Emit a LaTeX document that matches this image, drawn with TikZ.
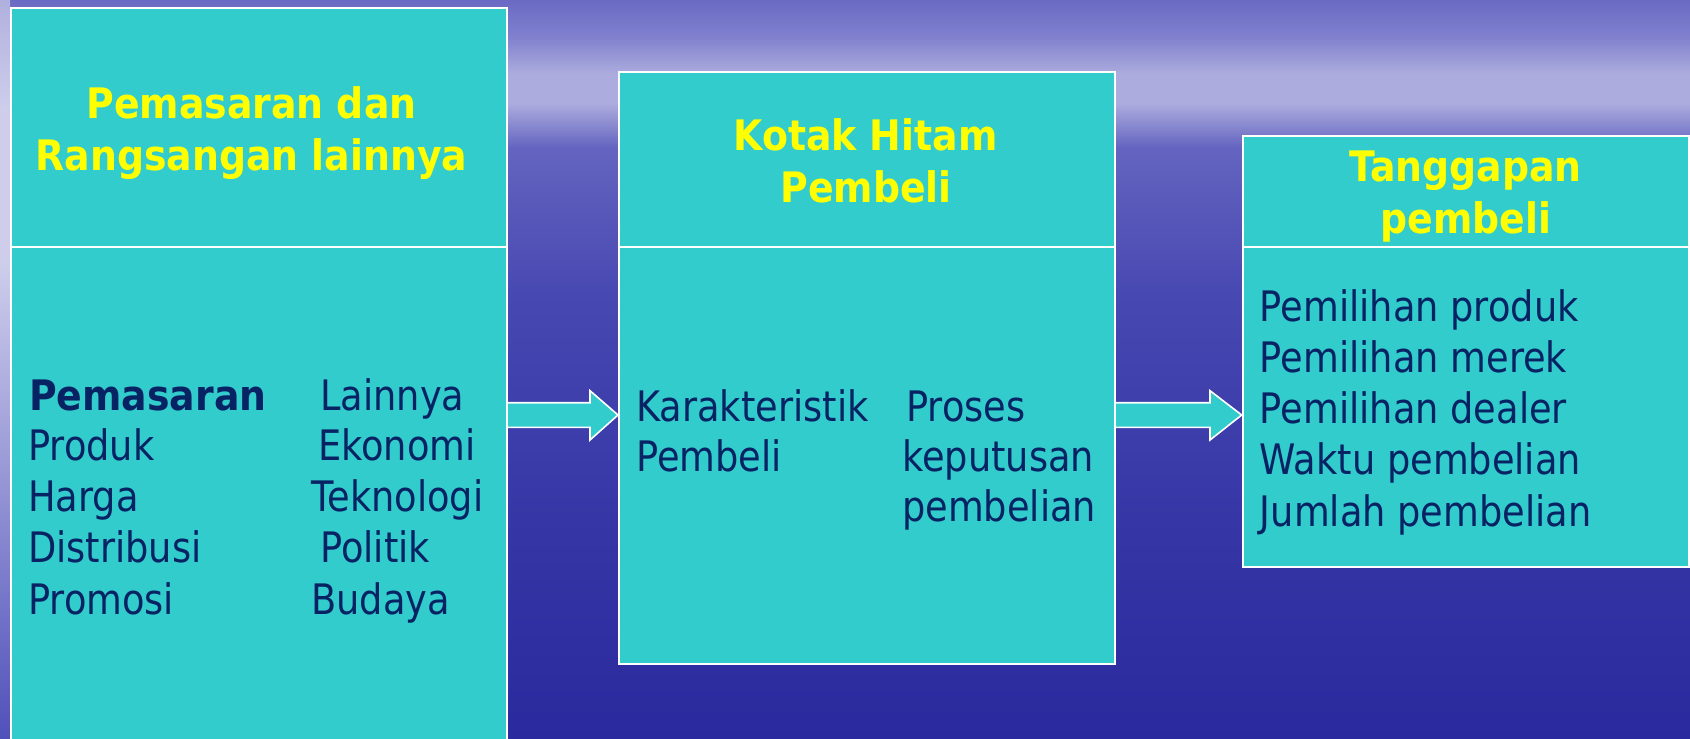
\documentclass[tikz,border=0pt]{standalone}
\usepackage{fontspec}
\newfontfamily\regf{DejaVu Sans}[FakeStretch=0.875]
\newfontfamily\boldf{DejaVu Sans}[FakeStretch=0.9]
\usetikzlibrary{calc}
\definecolor{boxfill}{RGB}{51,204,204}
\definecolor{navy}{RGB}{8,35,100}
\definecolor{ttl}{RGB}{255,255,0}
\definecolor{bgA}{RGB}{42,42,158}
\definecolor{bgB}{RGB}{54,54,166}
\definecolor{bgC}{RGB}{72,72,178}
\definecolor{bgD}{RGB}{100,100,192}
\definecolor{bgE}{RGB}{172,172,222}
\definecolor{bgF}{RGB}{128,128,206}
\definecolor{bgG}{RGB}{106,106,196}
\definecolor{lsA}{RGB}{80,80,186}
\definecolor{lsB}{RGB}{150,150,214}
\definecolor{lsC}{RGB}{206,206,236}
\definecolor{lsD}{RGB}{176,176,222}
% path box maps to 25bp..75bp of the declared shading
\pgfdeclareverticalshading{bgshade}{100bp}{color(0bp)=(bgA); color(25bp)=(bgA); color(40bp)=(bgB); color(55bp)=(bgC); color(65bp)=(bgD); color(68bp)=(bgE); color(70bp)=(bgE); color(72.5bp)=(bgF); color(75bp)=(bgG); color(100bp)=(bgG)}
\pgfdeclareverticalshading{leftstrip}{100bp}{color(0bp)=(lsA); color(25bp)=(lsA); color(42.5bp)=(lsB); color(57.5bp)=(lsC); color(67.5bp)=(lsC); color(75bp)=(lsD); color(100bp)=(lsD)}
\tikzset{
  panel/.style={draw=white, line width=2pt, fill=boxfill, inner sep=0pt, anchor=north west},
  divline/.style={draw=white, line width=2pt},
  blockarrow/.style={draw=white, line width=1.6pt, fill=boxfill, line join=miter},
  bodytext/.style={anchor=base west, inner sep=0pt, text=navy, font=\regf\fontsize{42}{50}\selectfont},
  boldbody/.style={anchor=base west, inner sep=0pt, text=navy, font=\boldf\bfseries\fontsize{42}{50}\selectfont},
  titletext/.style={anchor=base, inner sep=0pt, text=ttl, font=\boldf\bfseries\fontsize{42}{52}\selectfont}
}
\begin{document}
\begin{tikzpicture}[x=1pt, y=-1pt]
\useasboundingbox (0,0) rectangle (1690,739);
\clip (0,0) rectangle (1690,739);
\shade[shading=bgshade] (0,0) rectangle (1690,739);
\shade[shading=leftstrip] (0,0) rectangle (10,739);

% boxes
\node[panel, minimum width=496pt, minimum height=760pt] (b1) at (10,7) {};
\node[panel, minimum width=496pt, minimum height=591.5pt] (b2) at (618,71) {};
\node[panel, minimum width=446.3pt, minimum height=431pt] (b3) at (1241.7,135) {};

% dividers
\draw[divline] (b1.west |- 0,246.7) -- (b1.east |- 0,246.7);
\draw[divline] (b2.west |- 0,246.7) -- (b2.east |- 0,246.7);
\draw[divline] (b3.west |- 0,246.7) -- (b3.east |- 0,246.7);

% block arrows
\draw[blockarrow] (b1.east |- 0,402.7) -- (590,402.7) -- (590,390.7) -- (b2.west |- 0,415)
  -- (590,440) -- (590,427.3) -- (b1.east |- 0,427.3);
\draw[blockarrow] (b2.east |- 0,402.7) -- (1210,402.7) -- (1210,390.7) -- (b3.west |- 0,415)
  -- (1210,440) -- (1210,427.3) -- (b2.east |- 0,427.3);

% titles
\node[titletext] (t1a) at (251.5,118.3) {Pemasaran dan};
\node[titletext] (t1b) at (251.5,170.7) {Rangsangan lainnya};
\node[titletext] (t2a) at (865.5,150) {Kotak Hitam};
\node[titletext] (t2b) at (866,202.7) {Pembeli};
\node[titletext] (t3a) at (1465.5,181.7) {Tanggapan};
\node[titletext] (t3b) at (1466,233.3) {pembeli};

% box 1 body
\node[boldbody] (m0) at (29,410) {Pemasaran};
\node[bodytext] (m1) at (28,460.7) {Produk};
\node[bodytext] (m2) at (28,511.7) {Harga};
\node[bodytext] (m3) at (28,562.7) {Distribusi};
\node[bodytext] (m4) at (28,614) {Promosi};
\node[bodytext] (l0) at (320,410) {Lainnya};
\node[bodytext] (l1) at (318,460.7) {Ekonomi};
\node[bodytext] (l2) at (311,511.7) {Teknologi};
\node[bodytext] (l3) at (320,562.7) {Politik};
\node[bodytext] (l4) at (311,614) {Budaya};

% box 2 body
\node[bodytext] (k0) at (636,421.7) {Karakteristik};
\node[bodytext] (k1) at (636,471.7) {Pembeli};
\node[bodytext] (p0) at (906,421.7) {Proses};
\node[bodytext] (p1) at (902,471.7) {keputusan};
\node[bodytext] (p2) at (902,521.7) {pembelian};

% box 3 body
\node[bodytext] (r0) at (1259.7,321.7) {Pemilihan produk};
\node[bodytext] (r1) at (1259.7,372.3) {Pemilihan merek};
\node[bodytext] (r2) at (1259.7,423.3) {Pemilihan dealer};
\node[bodytext] (r3) at (1259.7,474.3) {Waktu pembelian};
\node[bodytext] (r4) at (1259.7,526) {Jumlah pembelian};
\end{tikzpicture}
\end{document}
